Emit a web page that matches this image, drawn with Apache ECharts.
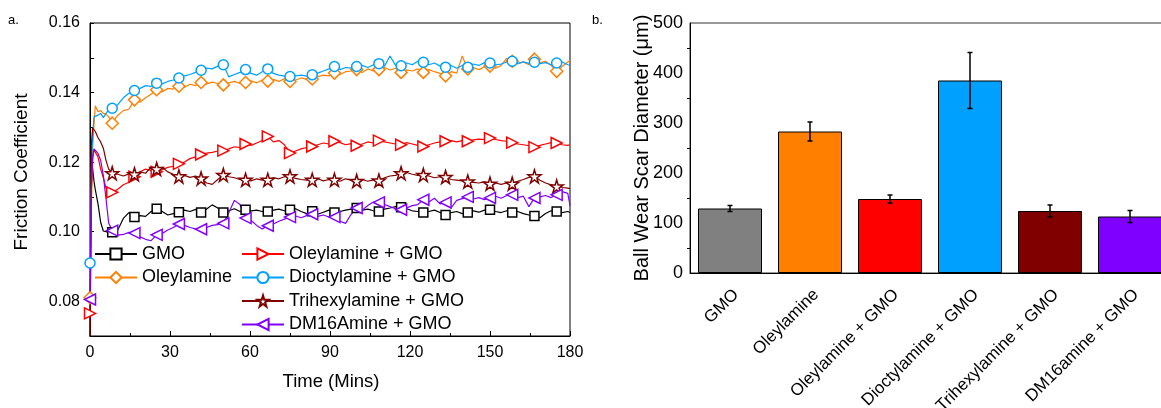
<!DOCTYPE html>
<html>
<head>
<meta charset="utf-8">
<script src="https://cdn.jsdelivr.net/npm/echarts@6/dist/echarts.min.js"></script>
<style>
  html, body { margin: 0; padding: 0; background: #fff; }
  #chart { width: 1161px; height: 408px; }
</style>
</head>
<body>
<div id="chart"></div>
<script>
// ---- panel a: friction coefficient vs time ----
const EARLY_T = [0, 0.5, 1, 1.5, 2, 3, 4, 5, 6, 7];
const MARK_STEP = 25 / 3;   // one marker every 8.33 min
const LATE_COUNT = 83;      // 4 samples between markers
const END_T = 180;

const gmo = [0.065, 0.1205, 0.118, 0.1145, 0.112, 0.108, 0.1027, 0.1002, 0.1000, 0.0998,
  0.0998, 0.1005, 0.1038, 0.1055, 0.1042, 0.1046, 0.1044, 0.1058, 0.1066, 0.1058,
  0.1048, 0.1052, 0.1056, 0.1062, 0.1058, 0.1064, 0.1055, 0.1065, 0.1077, 0.1068,
  0.1055, 0.1060, 0.1066, 0.1058, 0.1063, 0.1060, 0.1062, 0.1058, 0.1058, 0.1062,
  0.1065, 0.1060, 0.1063, 0.1066, 0.1058, 0.1052, 0.1059, 0.1050, 0.1056, 0.1062,
  0.1055, 0.1058, 0.1062, 0.1065, 0.1068, 0.1062, 0.1065, 0.1060, 0.1058, 0.1065,
  0.1068, 0.1072, 0.1070, 0.1066, 0.1060, 0.1058, 0.1055, 0.1058, 0.1062, 0.1055,
  0.1048, 0.1055, 0.1058, 0.1052, 0.1055, 0.1060, 0.1056, 0.1062, 0.1063, 0.1058,
  0.1055, 0.1060, 0.1055, 0.1058, 0.1052, 0.1048, 0.1045, 0.1040, 0.1052, 0.1060,
  0.1058, 0.1055, 0.1058, 0.1055];

const oleylamine = [0.081, 0.105, 0.124, 0.131, 0.1362, 0.1345, 0.1348, 0.1340, 0.1338, 0.1330,
  0.1312, 0.1335, 0.1348, 0.1352, 0.1379, 0.1372, 0.1385, 0.1395, 0.1408, 0.1402,
  0.1412, 0.1410, 0.1418, 0.1415, 0.1424, 0.1420, 0.1429, 0.1425, 0.1430, 0.1426,
  0.1422, 0.1428, 0.1432, 0.1426, 0.1429, 0.1434, 0.1428, 0.1436, 0.1433, 0.1438,
  0.1432, 0.1440, 0.1432, 0.1436, 0.1442, 0.1438, 0.1439, 0.1446, 0.1450, 0.1448,
  0.1456, 0.1452, 0.1460, 0.1462, 0.1466, 0.1458, 0.1468, 0.1462, 0.1466, 0.1472,
  0.1465, 0.1470, 0.1458, 0.1465, 0.1462, 0.1468, 0.1458, 0.1466, 0.1460, 0.1455,
  0.1448, 0.1460, 0.1456, 0.1505, 0.1468, 0.1472, 0.1466, 0.1474, 0.1476, 0.1470,
  0.1478, 0.1498, 0.1490, 0.1482, 0.1488, 0.1480, 0.1496, 0.1486, 0.1490, 0.1478,
  0.1461, 0.1475, 0.1488, 0.1492];

const oleylamineGmo = [0.0765, 0.112, 0.121, 0.1235, 0.124, 0.1215, 0.118, 0.1155, 0.1125, 0.1115,
  0.1113, 0.1122, 0.1135, 0.1142, 0.1158, 0.1172, 0.1180, 0.1176, 0.1172, 0.1178,
  0.1185, 0.1188, 0.1195, 0.1200, 0.1210, 0.1215, 0.1222, 0.1226, 0.1228, 0.1232,
  0.1233, 0.1238, 0.1244, 0.1242, 0.1252, 0.1248, 0.1255, 0.1262, 0.1274, 0.1258,
  0.1262, 0.1250, 0.1226, 0.1232, 0.1238, 0.1242, 0.1245, 0.1250, 0.1255, 0.1252,
  0.1260, 0.1256, 0.1250, 0.1253, 0.1247, 0.1252, 0.1258, 0.1255, 0.1262, 0.1258,
  0.1255, 0.1252, 0.1250, 0.1256, 0.1252, 0.1248, 0.1245, 0.1250, 0.1255, 0.1258,
  0.1260, 0.1262, 0.1258, 0.1262, 0.1260, 0.1264, 0.1266, 0.1265, 0.1269, 0.1265,
  0.1262, 0.1260, 0.1256, 0.1252, 0.1250, 0.1247, 0.1243, 0.1248, 0.1252, 0.1256,
  0.1255, 0.1250, 0.1248, 0.1250];

const dioctylamineGmo = [0.091, 0.118, 0.128, 0.133, 0.1335, 0.1335, 0.1340, 0.1328, 0.1340, 0.1350,
  0.1355, 0.1365, 0.1385, 0.1398, 0.1406, 0.1412, 0.1420, 0.1418, 0.1427, 0.1425,
  0.1432, 0.1436, 0.1442, 0.1448, 0.1452, 0.1458, 0.1464, 0.1470, 0.1468, 0.1476,
  0.1480, 0.1445, 0.1452, 0.1458, 0.1466, 0.1455, 0.1450, 0.1460, 0.1468, 0.1455,
  0.1450, 0.1447, 0.1446, 0.1448, 0.1450, 0.1447, 0.1451, 0.1456, 0.1462, 0.1468,
  0.1475, 0.1466, 0.1472, 0.1470, 0.1475, 0.1478, 0.1472, 0.1480, 0.1483, 0.1476,
  0.1505, 0.1478, 0.1477, 0.1485, 0.1480, 0.1490, 0.1487, 0.1480, 0.1485, 0.1476,
  0.1473, 0.1478, 0.1470, 0.1478, 0.1473, 0.1482, 0.1478, 0.1486, 0.1485, 0.1480,
  0.1482, 0.1488, 0.1490, 0.1484, 0.1488, 0.1484, 0.1487, 0.1483, 0.1486, 0.1480,
  0.1485, 0.1488, 0.1480, 0.1478];

const trihexylamineGmo = [0.066, 0.125, 0.1298, 0.1295, 0.1288, 0.1270, 0.1258, 0.1240, 0.1205, 0.1180,
  0.1168, 0.1165, 0.1160, 0.1166, 0.1165, 0.1172, 0.1168, 0.1186, 0.1180, 0.1185,
  0.1172, 0.1165, 0.1159, 0.1162, 0.1156, 0.1160, 0.1153, 0.1140, 0.1136, 0.1150,
  0.1163, 0.1158, 0.1155, 0.1150, 0.1149, 0.1146, 0.1152, 0.1148, 0.1149, 0.1155,
  0.1152, 0.1158, 0.1159, 0.1153, 0.1150, 0.1148, 0.1149, 0.1152, 0.1146, 0.1150,
  0.1149, 0.1145, 0.1152, 0.1148, 0.1146, 0.1150, 0.1145, 0.1149, 0.1147, 0.1155,
  0.1160, 0.1162, 0.1168, 0.1170, 0.1165, 0.1162, 0.1163, 0.1160, 0.1155, 0.1158,
  0.1157, 0.1150, 0.1148, 0.1146, 0.1144, 0.1142, 0.1140, 0.1143, 0.1138, 0.1140,
  0.1136, 0.1140, 0.1138, 0.1145, 0.1150, 0.1156, 0.1159, 0.1148, 0.1140, 0.1135,
  0.1130, 0.1127, 0.1125, 0.1124];

const dm16amineGmo = [0.0805, 0.112, 0.1215, 0.1238, 0.1240, 0.1225, 0.1205, 0.1162, 0.1095, 0.1025,
  0.1003, 0.0990, 0.0992, 0.0998, 0.0996, 0.0985, 0.0978, 0.0974, 0.0991, 0.0995,
  0.1005, 0.1012, 0.1022, 0.1018, 0.1012, 0.1008, 0.1007, 0.1012, 0.1018, 0.1020,
  0.1024, 0.1055, 0.1090, 0.1078, 0.1039, 0.1032, 0.1018, 0.1008, 0.1017, 0.1022,
  0.1030, 0.1036, 0.1042, 0.1045, 0.1040, 0.1046, 0.1050, 0.1044, 0.1048, 0.1042,
  0.1042, 0.1030, 0.1024, 0.1050, 0.1068, 0.1062, 0.1075, 0.1085, 0.1084, 0.1078,
  0.1072, 0.1066, 0.1063, 0.1068, 0.1075, 0.1078, 0.1092, 0.1085, 0.1096, 0.1080,
  0.1084, 0.1068, 0.1090, 0.1095, 0.1100, 0.1094, 0.1098, 0.1092, 0.1097, 0.1102,
  0.1096, 0.1104, 0.1106, 0.1098, 0.1102, 0.1072, 0.1097, 0.1100, 0.1104, 0.1098,
  0.1106, 0.1115, 0.1110, 0.1075];

// ---- panel b: wear scar diameter ----
const wearCategories = ['GMO', 'Oleylamine', 'Oleylamine + GMO', 'Dioctylamine + GMO', 'Trihexylamine + GMO', 'DM16amine + GMO'];
const wearScar = [129, 283, 148, 385, 124, 113];
const wearErr = [6, 19, 8, 56, 12, 12];
const barColors = ['#808080', '#ff8000', '#ff0000', '#00a0ff', '#800000', '#8000ff'];

const FONT = '"Liberation Sans", Arial, sans-serif';

const lateT = Array.from({ length: LATE_COUNT }, (_, k) => MARK_STEP + k * MARK_STEP / 4);
const times = EARLY_T.concat(lateT, [END_T]);

function withMarkers(vals) {
  const n0 = EARLY_T.length;
  return times.map((t, i) => {
    const mark = i === 0 || (i >= n0 && i < times.length - 1 && (i - n0) % 4 === 0);
    return mark ? { value: [t, vals[i]] } : { value: [t, vals[i]], symbol: 'none' };
  });
}

const STAR = 'path://M50,0 L61,35 L98,35 L68,57 L79,91 L50,70 L21,91 L32,57 L2,35 L39,35 Z';
const TRI_RIGHT = 'path://M0,0 L90,50 L0,100 Z';
const TRI_LEFT = 'path://M90,0 L0,50 L90,100 Z';

const lineDefs = [
  { name: 'GMO', vals: gmo, color: '#000000', symbol: 'rect', size: 9 },
  { name: 'Oleylamine', vals: oleylamine, color: '#ff8000', symbol: 'diamond', size: 12 },
  { name: 'Oleylamine + GMO', vals: oleylamineGmo, color: '#ff0000', symbol: TRI_RIGHT, size: 11 },
  { name: 'Dioctylamine + GMO', vals: dioctylamineGmo, color: '#00a0ff', symbol: 'circle', size: 10 },
  { name: 'Trihexylamine + GMO', vals: trihexylamineGmo, color: '#800000', symbol: STAR, size: 13 },
  { name: 'DM16Amine + GMO', vals: dm16amineGmo, color: '#8000ff', symbol: TRI_LEFT, size: 11 }
];

const lineSeries = lineDefs.map(d => ({
  type: 'line',
  name: d.name,
  xAxisIndex: 0,
  yAxisIndex: 0,
  data: withMarkers(d.vals),
  symbol: d.symbol,
  symbolSize: d.size,
  showSymbol: true,
  lineStyle: { color: d.color, width: 1.2 },
  itemStyle: { color: '#fff', borderColor: d.color, borderWidth: 1.5 },
  emphasis: { disabled: true },
  animation: false
}));

const chart = echarts.init(document.getElementById('chart'));

chart.setOption({
  backgroundColor: '#fff',
  animation: false,
  textStyle: { fontFamily: FONT },
  legend: [
    {
      data: ['GMO', 'Oleylamine'],
      left: 94, top: 245, orient: 'vertical',
      padding: 0, itemGap: 5.5, itemWidth: 42, itemHeight: 14,
      selectedMode: false,
      textStyle: { fontSize: 18, color: '#000', fontFamily: FONT }
    },
    {
      data: ['Oleylamine + GMO', 'Dioctylamine + GMO', 'Trihexylamine + GMO', 'DM16Amine + GMO'],
      left: 241, top: 245, orient: 'vertical',
      padding: 0, itemGap: 5.5, itemWidth: 42, itemHeight: 14,
      selectedMode: false,
      textStyle: { fontSize: 18, color: '#000', fontFamily: FONT }
    }
  ],
  grid: [
    { left: 90, top: 23, width: 480, height: 313, show: true, borderColor: '#000', borderWidth: 1, outerBoundsMode: 'none' },
    { left: 690, top: 23, width: 480, height: 250, show: true, borderColor: '#333', borderWidth: 1, outerBoundsMode: 'none' }
  ],
  xAxis: [
    {
      gridIndex: 0, type: 'value', min: 0, max: 180, interval: 30,
      axisLine: { lineStyle: { color: '#000', width: 1 } },
      axisTick: { inside: true, length: 5, lineStyle: { color: '#000' } },
      minorTick: { show: true, splitNumber: 2, length: 3, lineStyle: { color: '#000' } },
      splitLine: { show: false },
      axisLabel: { color: '#000', fontSize: 16, margin: 9, fontFamily: FONT }
    },
    {
      gridIndex: 1, type: 'category', position: 'bottom', data: wearCategories,
      axisLine: { lineStyle: { color: '#000', width: 1 } },
      axisTick: { alignWithLabel: true, length: 5, lineStyle: { color: '#000' } },
      axisLabel: { color: '#000', fontSize: 17, rotate: 45, margin: 13, verticalAlign: 'top', interval: 0, fontFamily: FONT },
      splitLine: { show: false }
    },
    {
      gridIndex: 1, type: 'category', position: 'bottom', data: wearCategories,
      axisLine: { show: false },
      axisTick: { length: 3, lineStyle: { color: '#000' } },
      axisLabel: { show: false },
      splitLine: { show: false }
    }
  ],
  yAxis: [
    {
      gridIndex: 0, type: 'value', min: 0.07, max: 0.16, interval: 0.01,
      axisLine: { show: true, lineStyle: { color: '#000', width: 1 } },
      axisTick: { inside: true, length: 4, lineStyle: { color: '#000' } },
      splitLine: { show: false },
      axisLabel: {
        color: '#000', fontSize: 16, margin: 10, fontFamily: FONT,
        formatter: v => (Math.round(v * 100) % 2 === 0 ? v.toFixed(2) : '')
      }
    },
    {
      gridIndex: 1, type: 'value', min: 0, max: 500, interval: 100,
      axisLine: { show: true, lineStyle: { color: '#000', width: 1 } },
      axisTick: { length: 5, lineStyle: { color: '#000' } },
      minorTick: { show: true, splitNumber: 2, length: 3, lineStyle: { color: '#000' } },
      splitLine: { show: false },
      axisLabel: { color: '#000', fontSize: 18, margin: 7, fontFamily: FONT }
    }
  ],
  graphic: [
    { type: 'text', left: 8, top: 14, style: { text: 'a.', fontSize: 13, fill: '#000', fontFamily: FONT } },
    { type: 'text', left: 592, top: 14, style: { text: 'b.', fontSize: 13, fill: '#000', fontFamily: FONT } },
    {
      type: 'text', x: 22, y: 172, rotation: Math.PI / 2,
      style: { text: 'Friction Coefficient', fontSize: 19, fill: '#000', fontFamily: FONT, align: 'center', verticalAlign: 'middle' }
    },
    {
      type: 'text', x: 331, y: 382,
      style: { text: 'Time (Mins)', fontSize: 18.5, fill: '#000', fontFamily: FONT, align: 'center', verticalAlign: 'middle' }
    },
    {
      type: 'text', x: 642, y: 148, rotation: Math.PI / 2,
      style: { text: 'Ball Wear Scar Diameter (\u03bcm)', fontSize: 20, fill: '#000', fontFamily: FONT, align: 'center', verticalAlign: 'middle' }
    }
  ],
  series: lineSeries.concat([
    {
      type: 'bar',
      xAxisIndex: 1, yAxisIndex: 1,
      barWidth: '80%',
      data: wearScar.map((v, i) => ({ value: v, itemStyle: { color: barColors[i] } })),
      itemStyle: { borderColor: '#000', borderWidth: 1 },
      emphasis: { disabled: true }
    },
    {
      type: 'custom',
      xAxisIndex: 1, yAxisIndex: 1,
      data: wearScar.map((v, i) => [i, v - wearErr[i], v + wearErr[i]]),
      encode: { x: 0, y: [1, 2] },
      z: 10,
      renderItem: (params, api) => {
        const lo = api.coord([api.value(0), api.value(1)]);
        const hi = api.coord([api.value(0), api.value(2)]);
        const cap = 2.5;
        const st = { stroke: '#000', lineWidth: 1.5 };
        return {
          type: 'group',
          children: [
            { type: 'line', shape: { x1: hi[0], y1: hi[1], x2: lo[0], y2: lo[1] }, style: st },
            { type: 'line', shape: { x1: hi[0] - cap, y1: hi[1], x2: hi[0] + cap, y2: hi[1] }, style: st },
            { type: 'line', shape: { x1: lo[0] - cap, y1: lo[1], x2: lo[0] + cap, y2: lo[1] }, style: st }
          ]
        };
      }
    }
  ])
});
</script>
</body>
</html>
